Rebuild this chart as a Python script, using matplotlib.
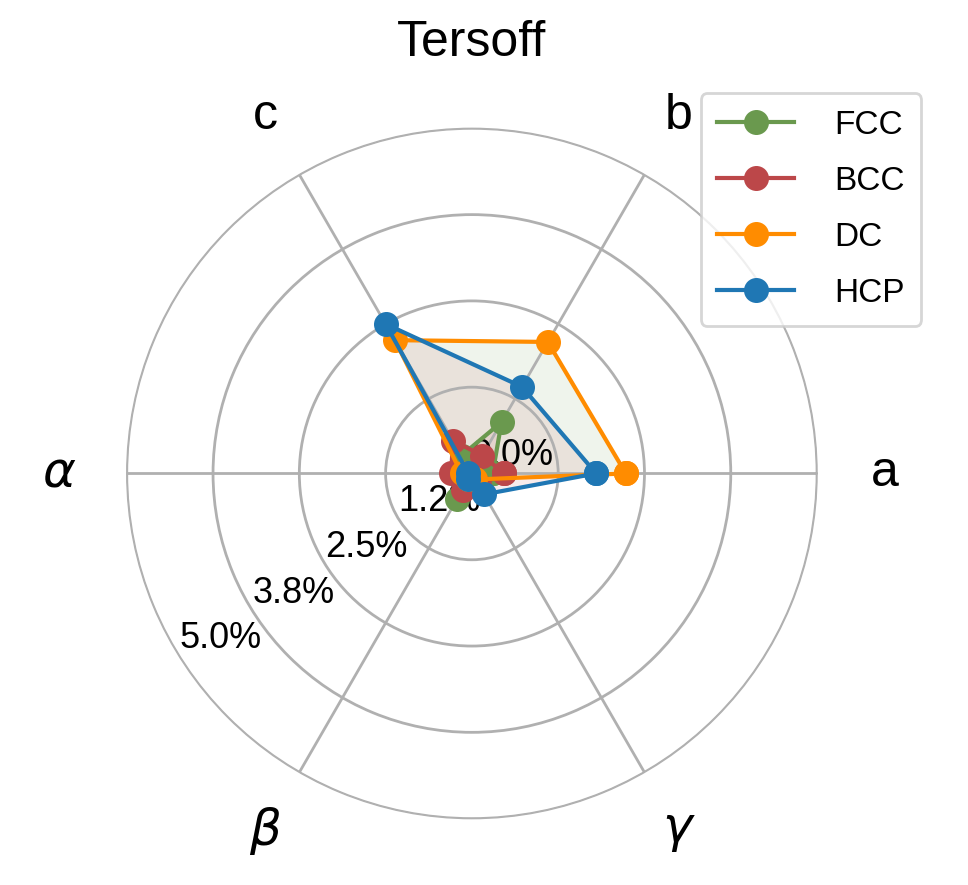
import numpy as np
import matplotlib
matplotlib.use("Agg")
import matplotlib.pyplot as plt

plt.rcParams["font.family"] = ["Liberation Sans", "DejaVu Sans"]
plt.rcParams["mathtext.fontset"] = "dejavusans"

# ── data (% error) ───────────────────────────────────────────────────────────
labels = ["a", "b", "c", r"$\alpha$", r"$\beta$", r"$\gamma$"]
fcc = [0.30, 0.86, 0.30, 0.25, 0.43, 0.20]
bcc = [0.47, 0.30, 0.55, 0.30, 0.27, 0.20]
dc  = [2.23, 2.20, 2.23, 0.15, 0.10, 0.10]
hcp = [1.80, 1.45, 2.50, 0.05, 0.10, 0.35]
rticks = [0.0, 1.25, 2.5, 3.75]
rtick_labels = ["0.0%", "1.2%", "2.5%", "3.8%"]

# name, values, line colour, fill colour
series = [("FCC", fcc, "#6a994e", "#bc4749"), ("BCC", bcc, "#bc4749", "#ff8c00"),
          ("DC", dc, "#ff8c00", "#6a994e"), ("HCP", hcp, "#1f77b4", "#bc4749")]

angles = np.arange(len(labels)) * 2 * np.pi / len(labels)
ang_closed = np.append(angles, angles[0])

fig = plt.figure(figsize=(4.84, 4.425), dpi=200)
ax = fig.add_axes([0.13, 0.075, 0.715, 0.78], projection="polar")

for name, vals, col, fcol in series:
    v = np.append(vals, vals[0])
    ax.plot(ang_closed, v, "-o", color=col, lw=1.5, ms=8, label=name, zorder=3)
    ax.fill(ang_closed, v, color=fcol, alpha=0.1)

ax.set_ylim(0, 5.0)
ax.set_xticks(angles)
ax.set_xticklabels(labels, fontsize=18)
ax.tick_params(axis="x", pad=14)
ax.set_yticks(rticks + [5.0])
ax.set_yticklabels(rtick_labels + ["5.0%"], fontsize=13)
ax.set_rlabel_position(212)
ax.grid(color="#b0b0b0", lw=1.0)
ax.spines["polar"].set_color("#b0b0b0")
ax.spines["polar"].set_linewidth(0.5)
ax.set_title("Tersoff", fontsize=18, pad=26)
ax.legend(loc="upper right", bbox_to_anchor=(1.175, 1.075), fontsize=12,
          handlelength=2.3, borderpad=0.5, labelspacing=0.75, handletextpad=1.2)

fig.savefig("out.png", dpi=200)
